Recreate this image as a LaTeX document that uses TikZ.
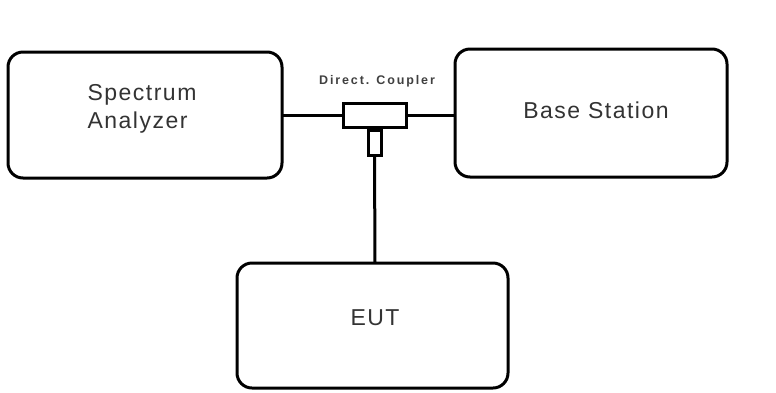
\documentclass[tikz,border=0pt]{standalone}
\usepackage{fontspec}
\newfontfamily\labfont[LetterSpace=6.5]{Liberation Sans}
\newfontfamily\smallfont[LetterSpace=15]{Liberation Sans Bold}
\begin{document}
\begin{tikzpicture}[x=1pt,y=-1pt,
  box/.style={draw=black,line width=3pt,rounded corners=15pt,fill=white},
  wire/.style={draw=black,line width=3pt},
  part/.style={draw=black,line width=3pt,fill=white},
  lab/.style={font=\labfont\fontsize{23}{28}\selectfont,text=black!80},
  small/.style={font=\smallfont\fontsize{12.5}{14}\selectfont,text=black!75}]
\useasboundingbox (0,0) rectangle (776,392);
\draw[box] (8,52) rectangle (282,178);
\draw[box] (455,49) rectangle (727,177);
\draw[box] (237,263) rectangle (508,388);
\coordinate (saR) at (282,115);
\coordinate (bsL) at (455,115);
\coordinate (eutT) at (375,263);
\node[part,minimum width=63pt,minimum height=24pt,inner sep=0pt] (cp) at (374.5,115) {};
\node[part,minimum width=13pt,minimum height=25pt,inner sep=0pt,anchor=north] (cs) at (cp.south) {};
\draw[wire] (saR) -- (cp.west);
\draw[wire] (cp.east) -- (bsL);
\draw[wire] (cs.south) -- (eutT);
\node[lab,align=left] (sa) at (142,109) {Spectrum\\Analyzer};
\node[lab] (bs) at (596,110) {Base Station};
\node[lab] (eut) at (375,318) {EUT};
\node[small] (dc) at (377,81) {Direct. Coupler};
\end{tikzpicture}
\end{document}
